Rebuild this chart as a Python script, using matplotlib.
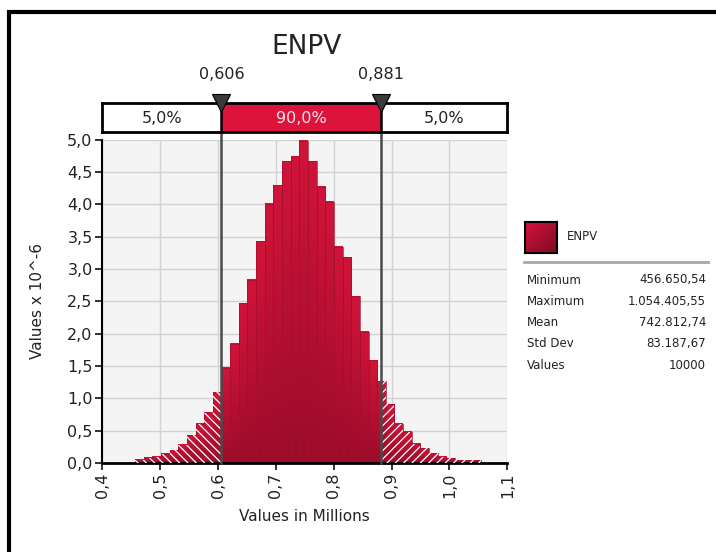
import numpy as np
import matplotlib
matplotlib.use("Agg")
import matplotlib.pyplot as plt
from matplotlib.colors import LinearSegmentedColormap
from matplotlib.patches import Rectangle
from matplotlib.lines import Line2D

# histogram: 40 bins between min and max (values in millions), density x 10^-6
x_min = 0.45665054
x_max = 1.05440555
n_bins = 40
dens = [0.05, 0.08, 0.10, 0.14, 0.20, 0.28, 0.43, 0.61, 0.78, 1.09,
        1.47, 1.84, 2.47, 2.83, 3.43, 4.01, 4.29, 4.66, 4.73, 4.98,
        4.66, 4.27, 4.04, 3.34, 3.18, 2.58, 2.03, 1.59, 1.26, 0.91,
        0.61, 0.48, 0.30, 0.23, 0.15, 0.10, 0.07, 0.04, 0.04, 0.04]

p_low = 0.606
p_high = 0.881
p_labels = ["0,606", "0,881"]
band_labels = ["5,0%", "90,0%", "5,0%"]

stat_names = ["Minimum", "Maximum", "Mean", "Std Dev", "Values"]
stat_values = ["456.650,54", "1.054.405,55", "742.812,74", "83.187,67", "10000"]

x_ticks = [0.4, 0.5, 0.6, 0.7, 0.8, 0.9, 1.0, 1.1]
y_ticks = [0.0, 0.5, 1.0, 1.5, 2.0, 2.5, 3.0, 3.5, 4.0, 4.5, 5.0]

W, H = 716, 552
def fx(px): return px / W
def fy(py): return 1 - py / H

plt.rcParams['hatch.linewidth'] = 0.9
fig = plt.figure(figsize=(W / 100, H / 100), dpi=100)

# outer frame
fig.patches.append(Rectangle((fx(9), fy(560)), fx(720) - fx(9), fy(12) - fy(560),
                             transform=fig.transFigure, fill=False, lw=3, ec='black'))

ax = fig.add_axes([fx(102.3), fy(463), fx(507.3) - fx(102.3), fy(139.5) - fy(463)])
ax.set_facecolor('#f4f4f4')

bar_cmap = LinearSegmentedColormap.from_list('bar', ['#9c0c2b', '#d01439'])
grad = np.linspace(0, 1, 64).reshape(-1, 1)
w = (x_max - x_min) / n_bins
edges = [x_min + k * w for k in range(n_bins + 1)]

for k, h in enumerate(dens):
    left, right = edges[k], edges[k + 1]
    ax.imshow(grad, extent=(left, right, 0, h), origin='lower', aspect='auto',
              cmap=bar_cmap, zorder=2, interpolation='bilinear')
    ax.add_patch(Rectangle((left, 0), right - left, h, fill=False,
                           ec='#a80d2f', lw=0.5, zorder=2.5))
    # hatched tails
    if left < p_low:
        r = min(right, p_low)
        ax.add_patch(Rectangle((left, 0), r - left, h, fill=False, ec='white',
                               lw=0, hatch='\\\\\\\\', zorder=3))
    if right > p_high:
        l = max(left, p_high)
        ax.add_patch(Rectangle((l, 0), right - l, h, fill=False, ec='white',
                               lw=0, hatch='////', zorder=3))

ax.set_xlim(0.4, 1.1)
ax.set_ylim(0, 5.0)
ax.set_xticks(x_ticks)
ax.set_yticks(y_ticks)
ax.set_xticklabels([("%.1f" % v).replace('.', ',') for v in x_ticks], rotation=90, fontsize=11.5)
ax.set_yticklabels([("%.1f" % v).replace('.', ',') for v in y_ticks], fontsize=11.5)
ax.grid(True, color='#d2d2d2', lw=1, zorder=0)
ax.set_axisbelow(True)
for s in ['top', 'right']:
    ax.spines[s].set_visible(False)
ax.spines['left'].set_linewidth(1.5)
ax.spines['bottom'].set_linewidth(2)
ax.tick_params(length=5, width=1.3, pad=2, colors='#222222')

top_ext = (463 - 132) / (463 - 139.5)
for p in (p_low, p_high):
    ax.axvline(p, ymin=0, ymax=top_ext, color='#4a4a4a', lw=1.8, zorder=4, clip_on=False)

ax.set_xlabel('Values in Millions', fontsize=11, color='#222222', labelpad=8)
fig.text(fx(38), fy(301), 'Values x 10^-6', rotation=90, fontsize=11,
         color='#222222', ha='center', va='center')

fig.text(fx(307), fy(47.5), 'ENPV', fontsize=19, color='#222222', ha='center', va='center')

# percentile band
axp = fig.add_axes([fx(102.3), fy(132.3), fx(507.3) - fx(102.3), fy(103.3) - fy(132.3)])
axp.set_xlim(0.4, 1.1)
axp.set_ylim(0, 1)
axp.add_patch(Rectangle((p_low, 0), p_high - p_low, 1, fc='#dc143c', ec='none'))
axp.axvline(p_low, color='black', lw=1.8)
axp.axvline(p_high, color='black', lw=1.8)
for s in axp.spines.values():
    s.set_linewidth(2)
axp.set_xticks([])
axp.set_yticks([])
band_centers = [(0.4 + p_low) / 2, (p_low + p_high) / 2, (p_high + 1.1) / 2]
band_colors = ['#222222', '#f6e4e8', '#222222']
for c, t, col in zip(band_centers, band_labels, band_colors):
    axp.text(c, 0.48, t, ha='center', va='center', fontsize=11.5, color=col)
for p, t in zip((p_low, p_high), p_labels):
    axp.plot([p], [1.0], marker='v', ms=13, mfc='#3a3a3a', mec='black', mew=0.8,
             clip_on=False, zorder=5)
    axp.text(p, 2.0, t, ha='center', va='center', fontsize=11.5, color='#222222',
             transform=axp.transData, clip_on=False)

# legend swatch
axs = fig.add_axes([fx(525), fy(253), fx(557) - fx(525), fy(222) - fy(253)])
gx, gy = np.meshgrid(np.linspace(0, 1, 32), np.linspace(0, 1, 32))
axs.imshow((gx + gy) / 2, cmap=LinearSegmentedColormap.from_list('sw', ['#d4143a', '#7e0a24']),
           aspect='auto', interpolation='bilinear')
axs.set_xticks([])
axs.set_yticks([])
for s in axs.spines.values():
    s.set_linewidth(1.5)
fig.text(fx(567), fy(237), 'ENPV', fontsize=8.5, color='#222222', va='center', ha='left')
fig.add_artist(Line2D([fx(524), fx(708)], [fy(262), fy(262)], color='#a8a8a8', lw=2,
                      transform=fig.transFigure))

for i, (n, v) in enumerate(zip(stat_names, stat_values)):
    yy = fy(280 + i * 21.3)
    fig.text(fx(527), yy, n, fontsize=8.5, color='#222222', va='center', ha='left')
    fig.text(fx(706), yy, v, fontsize=8.5, color='#222222', va='center', ha='right')

fig.savefig('out.png', dpi=100)
